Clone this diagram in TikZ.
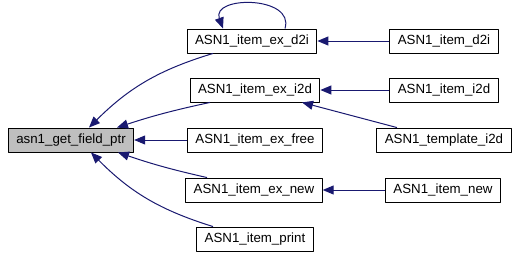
\documentclass[tikz,border=0pt]{standalone}
\usepackage{fontspec}
\setmainfont{Liberation Sans}
\usetikzlibrary{arrows.meta}
\definecolor{canhxanh}{HTML}{191970}
\definecolor{nenxam}{HTML}{BFBFBF}

\begin{document}
\begin{tikzpicture}[x=1pt, y=-1pt, line join=round,
		hop/.style={draw=black, line width=0.9pt, fill=white, minimum height=24pt,
			inner xsep=8pt, inner ysep=0pt, text height=9.6pt, text depth=2.6pt,
			font=\fontsize{13.3}{16}\selectfont},
		canh/.style={draw=canhxanh, line width=1pt, -{Triangle[length=11pt,width=9pt]}}]
				\useasboundingbox (0,0) rectangle (520,257);
				
				% Hàm gốc
				\node[hop, fill=nenxam] (ptr) at (71,140) {asn1\_get\_field\_ptr};
				
				% Cột giữa
				\node[hop] (exd2i) at (252,41) {ASN1\_item\_ex\_d2i};
				\node[hop] (exi2d) at (255,90) {ASN1\_item\_ex\_i2d};
				\node[hop] (exfree) at (255,140) {ASN1\_item\_ex\_free};
				\node[hop] (exnew) at (254,190) {ASN1\_item\_ex\_new};
				\node[hop] (print) at (255,239) {ASN1\_item\_print};
				
				% Cột phải
				\node[hop] (itemd2i) at (444,41) {ASN1\_item\_d2i};
				\node[hop] (itemi2d) at (444,90) {ASN1\_item\_i2d};
				\node[hop] (tmpli2d) at (444,140) {ASN1\_template\_i2d};
				\node[hop] (itemnew) at (443,190) {ASN1\_item\_new};
				
				% Các cạnh vào hàm gốc
				\draw[canh] ([xshift=-39pt]exd2i.south) to[bend right=14] ([xshift=18pt]ptr.north);
				\draw[canh] ([xshift=-45pt]exi2d.south) to[bend right=3] ([xshift=46pt]ptr.north);
				\draw[canh] (exfree) -- (ptr);
				\draw[canh] ([xshift=-47pt]exnew.north) to[bend left=3] ([xshift=47pt]ptr.south);
				\draw[canh] ([xshift=-42pt]print.north) to[bend left=14] ([xshift=20pt]ptr.south);
				
				% Vòng tự gọi
				\draw[canh] ([xshift=33pt]exd2i.north) .. controls +(10,-33) and +(-12,-33) .. ([xshift=-29pt]exd2i.north);
				
				% Các cạnh cột phải
				\draw[canh] (itemd2i) -- (exd2i);
				\draw[canh] (itemi2d) -- (exi2d);
				\draw[canh] (tmpli2d) -- (exi2d);
				\draw[canh] (itemnew) -- (exnew);
		\end{tikzpicture}
\end{document}
